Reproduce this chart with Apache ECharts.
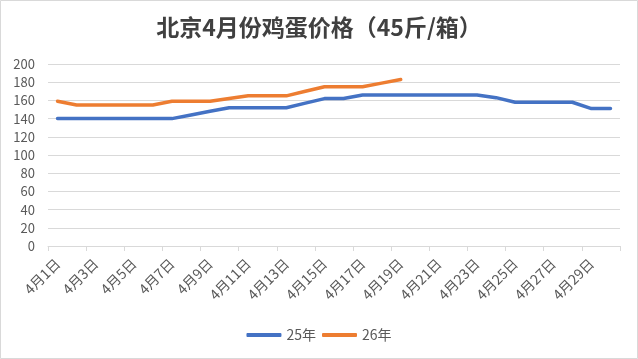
<!DOCTYPE html>
<html>
<head>
<meta charset="utf-8">
<script src="https://cdn.jsdelivr.net/npm/echarts@6/dist/echarts.min.js"></script>
<style>
html,body{margin:0;padding:0;background:#fff;}
#c{width:638px;height:359px;}
</style>
</head>
<body>
<div id="c"></div>
<script>
const titleText = '北京4月份鸡蛋价格（45斤/箱）';
const categories = ['4月1日','4月2日','4月3日','4月4日','4月5日','4月6日','4月7日','4月8日','4月9日','4月10日',
  '4月11日','4月12日','4月13日','4月14日','4月15日','4月16日','4月17日','4月18日','4月19日','4月20日',
  '4月21日','4月22日','4月23日','4月24日','4月25日','4月26日','4月27日','4月28日','4月29日','4月30日'];
const seriesNames = ['25年','26年'];
const values25 = [140,140,140,140,140,140,140,144,148,152,152,152,152,157,162,162,166,166,166,166,166,166,166,163,158,158,158,158,151,151];
const values26 = [159,155,155,155,155,155,159,159,159,162,165,165,165,170,175,175,175,179,183];

const font = '"Noto Sans CJK SC", "Microsoft YaHei", sans-serif';
const chart = echarts.init(document.getElementById('c'), null, {renderer:'canvas'});
chart.setOption({
  animation:false,
  backgroundColor:'#ffffff',
  textStyle:{fontFamily:font},
  graphic:[{type:'rect',shape:{x:0.5,y:0.5,width:637,height:358},style:{fill:'none',stroke:'#d9d9d9',lineWidth:1},silent:true}],
  title:{text:titleText,left:'center',top:11,textStyle:{fontFamily:font,fontSize:23,fontWeight:'bold',color:'#404040'}},
  legend:{
    data:seriesNames,bottom:12,left:'center',icon:'roundRect',itemWidth:35,itemHeight:4,itemGap:6,
    textStyle:{fontFamily:font,fontSize:14,color:'#595959'}
  },
  grid:{left:48,right:18,top:64,bottom:113,containLabel:false},
  xAxis:{
    type:'category',data:categories,boundaryGap:true,
    axisLine:{lineStyle:{color:'#d9d9d9'}},
    axisTick:{show:true,interval:1,length:5,lineStyle:{color:'#d9d9d9'}},
    axisLabel:{interval:1,rotate:45,fontSize:14,color:'#595959',margin:15,fontFamily:font}
  },
  yAxis:{
    type:'value',min:0,max:200,interval:20,
    axisLine:{show:false},axisTick:{show:false},
    axisLabel:{fontSize:13,color:'#595959',margin:13,fontFamily:font},
    splitLine:{lineStyle:{color:'#d9d9d9'}}
  },
  series:[
    {name:seriesNames[0],type:'line',data:values25,showSymbol:false,symbol:'none',lineStyle:{width:3.5,color:'#4472C4',cap:'round'},itemStyle:{color:'#4472C4'}},
    {name:seriesNames[1],type:'line',data:values26,showSymbol:false,symbol:'none',lineStyle:{width:3.5,color:'#ED7D31',cap:'round'},itemStyle:{color:'#ED7D31'}}
  ]
});
</script>
</body>
</html>
